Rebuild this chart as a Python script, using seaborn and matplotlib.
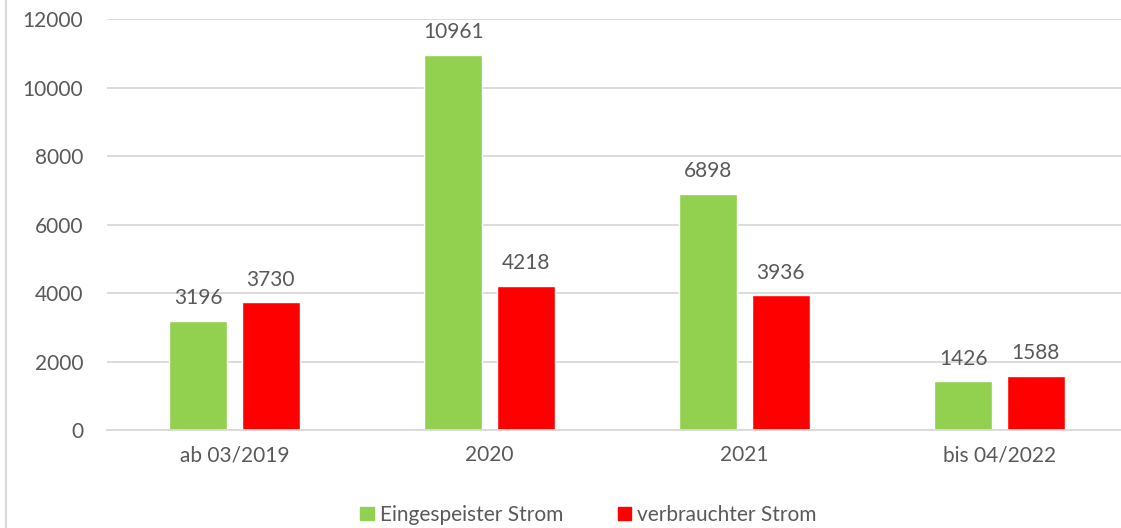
import numpy as np
import matplotlib
matplotlib.use("Agg")
import matplotlib.pyplot as plt
from matplotlib.lines import Line2D
import pandas as pd
import seaborn as sns

# Data
categories = ["ab 03/2019", "2020", "2021", "bis 04/2022"]
eingespeist = [3196, 10961, 6898, 1426]
verbraucht = [3730, 4218, 3936, 1588]
series_names = ["Eingespeister Strom", "verbrauchter Strom"]
colors = ["#92D050", "#FF0000"]

df = pd.DataFrame({
    "Kategorie": categories * 2,
    "Wert": eingespeist + verbraucht,
    "Serie": [series_names[0]] * 4 + [series_names[1]] * 4,
})

sns.set_style("white")
plt.rcParams["font.family"] = ["Lato", "DejaVu Sans"]
text_color = "#595959"
fs = 15

fig = plt.figure(figsize=(11.21, 5.28), dpi=100)
ax = fig.add_axes([107 / 1121, 1 - 430 / 528, 1 - 107 / 1121, (430 - 19) / 528])

sns.barplot(data=df, x="Kategorie", y="Wert", hue="Serie", palette=colors,
            width=0.57, gap=0.21, ax=ax, legend=False, saturation=1)

ax.set_xlim(-0.5, (1121 - 107) / 255 - 0.5)
ax.set_ylim(0, 12000)
ax.set_yticks(np.arange(0, 12001, 2000))
ax.yaxis.grid(True, color="#D9D9D9", linewidth=1.3)
ax.set_axisbelow(True)
for s in ["top", "right", "left"]:
    ax.spines[s].set_visible(False)
ax.spines["bottom"].set_color("#D9D9D9")
ax.spines["bottom"].set_linewidth(1.3)
ax.tick_params(axis="both", length=0, labelsize=fs, colors=text_color)
ax.tick_params(axis="y", pad=17)
ax.tick_params(axis="x", pad=11)
ax.set_xlabel("")
ax.set_ylabel("")

for cont in ax.containers:
    ax.bar_label(cont, fmt="%d", padding=9, fontsize=fs, color=text_color)

handles = [plt.Rectangle((0, 0), 1, 1, color=c) for c in colors]
fig.legend(handles, series_names, loc="center", bbox_to_anchor=(0.525, 0.025),
           ncol=2, frameon=False, fontsize=fs, labelcolor=text_color,
           handlelength=0.65, handleheight=0.65, handletextpad=0.3, columnspacing=2.6)

# left chart border
fig.add_artist(Line2D([6 / 1121, 6 / 1121], [0, 1], transform=fig.transFigure,
                      color="#D9D9D9", linewidth=1.5))

fig.savefig("out.png", dpi=100)
